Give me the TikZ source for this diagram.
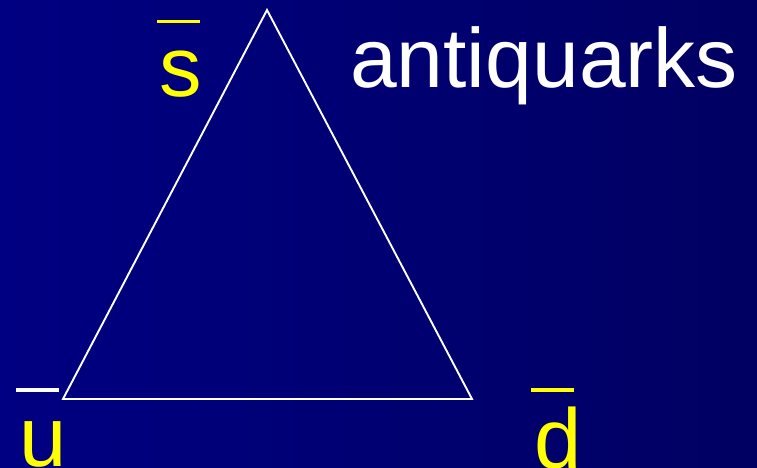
\documentclass[tikz,border=0pt]{standalone}
\usepackage{fontspec}
\setmainfont{Liberation Sans}
\definecolor{bgleft}{RGB}{0,0,130}
\definecolor{bgright}{RGB}{0,0,98}
\definecolor{qyellow}{RGB}{255,255,0}
\begin{document}
\begin{tikzpicture}[x=1pt,y=-1pt,
  edge/.style={draw=white,line width=1.9pt,line join=miter},
  qlabel/.style={text=qyellow,inner sep=0pt,anchor=base west,font=\fontsize{85}{85}\selectfont},
  qbar/.style={fill=qyellow,draw=none},
  title/.style={text=white,inner sep=0pt,anchor=base west,font=\fontsize{84}{84}\selectfont}]
\useasboundingbox (0,0) rectangle (757,468);
\shade[left color=bgleft,right color=bgright] (0,0) rectangle (757,468);
\coordinate (top) at (267,10);
\coordinate (bl) at (63,399);
\coordinate (br) at (472,399);
\draw[edge] (top) -- (bl) -- (br) -- cycle;
\node[qlabel] (s) at (159,97) {s};
\fill[qbar] (157,20) rectangle (200,23.5);
\node[qlabel] (u) at (19,466) {u};
\fill[qbar,fill=white] (16,388) rectangle (59,391.5);
\node[qlabel] (d) at (534,468) {d};
\fill[qbar] (531,388) rectangle (574,391.5);
\node[title] (t) at (350,88) {antiquarks};
\end{tikzpicture}
\end{document}
